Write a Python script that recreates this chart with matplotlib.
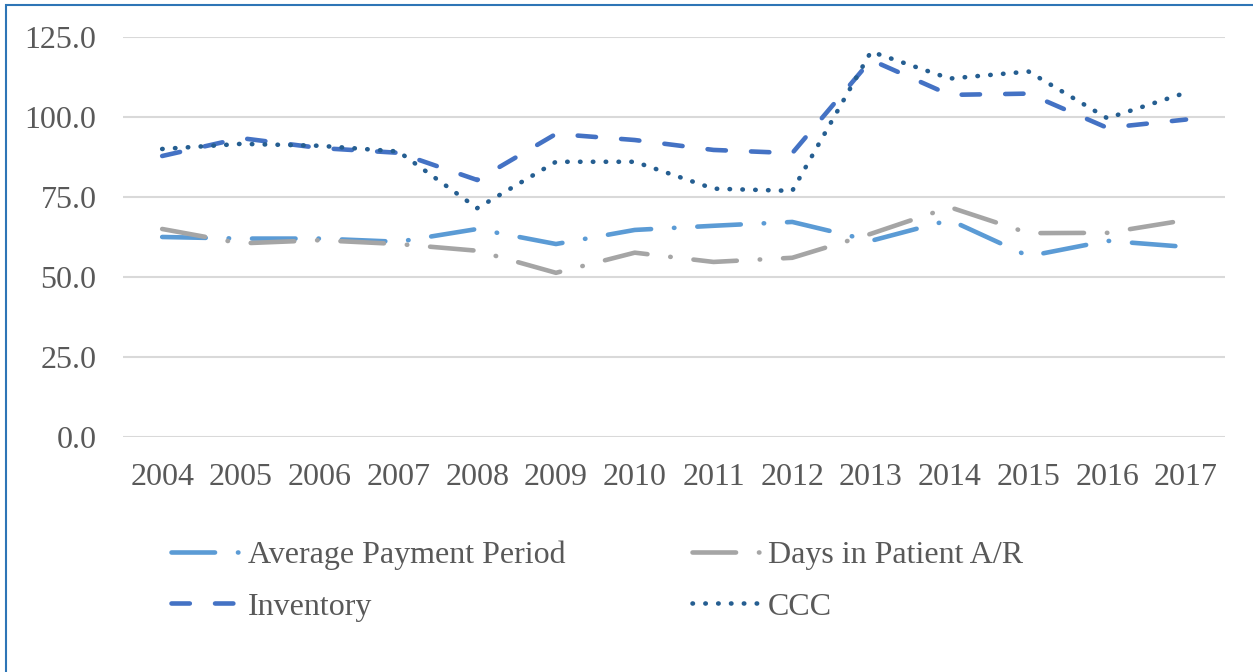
import matplotlib
matplotlib.use('Agg')
import matplotlib.pyplot as plt
from matplotlib.patches import Rectangle
from matplotlib.ticker import FormatStrFormatter

# Values
years = ['2004', '2005', '2006', '2007', '2008', '2009', '2010',
         '2011', '2012', '2013', '2014', '2015', '2016', '2017']
avg_payment = [62.5, 62.0, 62.0, 61.0, 65.0, 60.3, 64.7,
               66.0, 67.2, 61.3, 67.8, 56.5, 61.3, 59.4]
days_ar = [65.0, 60.5, 61.5, 60.3, 58.2, 51.3, 57.6,
           54.7, 56.0, 63.5, 71.8, 63.7, 63.8, 67.8]
inventory = [87.8, 93.4, 90.3, 88.8, 80.3, 94.7, 92.8,
             89.7, 88.7, 117.8, 106.9, 107.3, 96.6, 99.2]
ccc = [90.0, 91.6, 91.0, 89.2, 71.5, 86.0, 86.0,
       77.6, 76.9, 120.4, 112.0, 114.2, 99.6, 107.6]
y_ticks = [0, 25, 50, 75, 100, 125]

plt.rcParams['font.family'] = ['Liberation Serif', 'DejaVu Serif']

fig = plt.figure(figsize=(12.53, 6.72), dpi=100)
ax = fig.add_axes([0.098, 0.3497, 0.880, 0.5953])

x = list(range(len(years)))
lw = 3.3
l1, = ax.plot(x, avg_payment, color='#5B9BD5', lw=lw, dashes=(9.5, 5.0, 0.1, 5.0),
              dash_capstyle='round', label='Average Payment Period', zorder=3)
l2, = ax.plot(x, days_ar, color='#A5A5A5', lw=lw, dashes=(9.5, 5.0, 0.1, 5.0),
              dash_capstyle='round', label='Days in Patient A/R', zorder=3)
l3, = ax.plot(x, inventory, color='#4472C4', lw=lw, dashes=(4.0, 5.5),
              dash_capstyle='round', label='Inventory', zorder=3)
l4, = ax.plot(x, ccc, color='#255E91', lw=lw, dashes=(0.1, 2.7),
              dash_capstyle='round', label='CCC', zorder=3)

ax.set_xlim(-0.5, len(years) - 0.5)
ax.set_ylim(0, 125)
ax.set_yticks(y_ticks)
ax.yaxis.set_major_formatter(FormatStrFormatter('%.1f'))
ax.set_xticks(x)
ax.set_xticklabels(years)
ax.grid(True, axis='y', color='#D9D9D9', lw=1.5, zorder=1)
for s in ax.spines.values():
    s.set_visible(False)
ax.tick_params(axis='both', length=0, labelsize=23, labelcolor='#595959')
ax.tick_params(axis='x', pad=19)
ax.tick_params(axis='y', pad=19)

# legend fills column-wise, so order handles to read row-wise like the source
handles = [l1, l3, l2, l4]
fig.legend(handles, [h.get_label() for h in handles],
           loc='upper left', bbox_to_anchor=(0.1365, 0.196), ncol=2,
           frameon=False, fontsize=23, labelcolor='#595959',
           handlelength=2.25, handletextpad=0.15, columnspacing=3.95,
           labelspacing=0.7, borderpad=0, borderaxespad=0)

# Blue outline around the figure, as in the source
fig.patches.append(Rectangle((6 / 1253, -0.05), 1.1, 1 - 5 / 672 + 0.05,
                             transform=fig.transFigure, fill=False,
                             edgecolor='#2E75B6', lw=1.5, clip_on=False))

plt.savefig('out.png', dpi=100)
plt.close()
